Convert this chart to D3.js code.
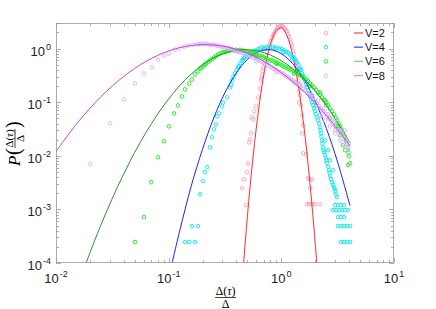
<!DOCTYPE html>
<html>
<head>
<meta charset="utf-8">
<script src="https://cdn.jsdelivr.net/npm/d3@7"></script>
<style>
  body { margin: 0; background: #fff; }
  text { font-family: "Liberation Sans", Arial, sans-serif; }
  .math { font-family: "Liberation Serif", "Times New Roman", serif; }
</style>
</head>
<body>
<svg id="chart" width="436" height="309"></svg>
<script>
// fitted curves as [x, P]
var lineV2 = [[0.457,7.2e-5],[0.501,7.8e-4],[0.562,9.9e-3],[0.631,0.0776],[0.708,0.377],[0.794,1.13],[0.891,2.11],[1.0,2.44],[1.122,1.74],[1.259,0.773],[1.413,0.212],[1.585,0.036],[1.778,3.8e-3],[1.995,2.45e-4],[2.089,7.2e-5]];
var lineV4 = [[0.107,9.8e-5],[0.126,4.15e-4],[0.158,2.65e-3],[0.1995,0.01315],[0.251,0.0506],[0.316,0.151],[0.398,0.350],[0.501,0.630],[0.631,0.880],[0.794,0.954],[1,0.803],[1.259,0.525],[1.585,0.266],[1.995,0.105],[2.512,0.0321],[3.162,7.6e-3],[4.07,1.17e-3]];
var lineV6 = [[0.0182,9.1e-5],[0.0251,5.19e-4],[0.0398,4.54e-3],[0.0631,0.0275],[0.1,0.115],[0.158,0.334],[0.251,0.671],[0.398,0.931],[0.631,0.895],[1,0.594],[1.585,0.273],[2.512,0.0868],[4.07,0.0175]];
var lineV8 = [[0.01,0.012],[0.0158,0.0433],[0.0251,0.127],[0.0398,0.301],[0.0631,0.579],[0.1,0.903],[0.158,1.141],[0.251,1.168],[0.398,0.970],[0.631,0.653],[1,0.356],[1.585,0.158],[2.512,0.0565],[4.07,0.0153]];

// measured points
var dotsV2 = [[0.448,0.00248],[0.467,0.00365],[0.486,0.0012],[0.496,0.00493],[0.506,0.00725],[0.517,0.0178],[0.528,0.0203],[0.538,0.0262],[0.550,0.052],[0.561,0.0478],[0.573,0.0673],[0.596,0.0834],[0.621,0.123],[0.647,0.180],[0.661,0.254],[0.674,0.315],[0.688,0.443],[0.717,0.598],[0.747,0.843],[0.778,1.137],[0.810,1.409],[0.844,1.746],[0.879,2.071],[0.916,2.355],[0.954,2.567],[0.994,2.679],[1.035,2.567],[1.078,2.355],[1.124,2.071],[1.170,1.673],[1.219,1.293],[1.270,0.918],[1.323,0.652],[1.351,0.463],[1.407,0.315],[1.436,0.205],[1.466,0.134],[1.496,0.087],[1.527,0.0567],[1.558,0.0369],[1.527,0.0262],[1.558,0.0111],[1.657,0.0107],[1.726,0.00381],[1.798,0.00365],[1.873,0.00365],[1.798,0.00248],[1.691,0.00125],[1.761,0.00125],[1.835,0.00125],[1.911,0.00125],[1.991,0.00125],[2.205,0.00125],[1.436,0.099],
  [0.665,0.28],[0.68,0.38],[0.70,0.52],[0.73,0.72],[0.76,1.0],[0.795,1.27],[0.827,1.58],[0.862,1.9],[0.897,2.2],[0.935,2.45],[0.974,2.62],[1.015,2.62],[1.056,2.45],[1.10,2.2],[1.147,1.86],[1.195,1.48],[1.245,1.1],[1.296,0.78],[1.336,0.55],[1.38,0.38],[1.42,0.25],[1.45,0.165]];
var dotsV4 = [[0.140,0.000246],[0.152,0.000246],[0.171,0.000246],[0.161,0.000488],[0.182,0.000488],[0.190,0.00192],[0.202,0.00335],[0.210,0.00493],[0.219,0.00611],[0.233,0.0144],[0.243,0.0221],[0.253,0.0311],[0.263,0.0385],[0.269,0.0543],[0.280,0.0618],[0.298,0.0834],[0.304,0.099],[0.330,0.123],[0.351,0.188],[0.365,0.254],[0.388,0.343],[0.413,0.443],[0.430,0.526],[0.457,0.624],[0.476,0.680],[0.506,0.774],[0.550,0.843],[0.596,0.918],[0.647,1.0],[0.717,1.044],[0.794,1.044],[0.879,1.044],[0.974,1.0],[1.057,0.918],[1.147,0.843],[1.219,0.741],[1.296,0.652],[1.379,0.549],[1.466,0.425],[1.527,0.343],[1.590,0.277],[1.657,0.214],[1.726,0.165],[1.798,0.128],[1.873,0.099],[1.951,0.0765],[2.032,0.0592],[2.117,0.0458],[2.205,0.0339],[2.251,0.0262],[2.298,0.0194],[2.345,0.0144],[2.394,0.0116],[2.494,0.00899],[2.545,0.00725],[2.650,0.00537],[2.705,0.00416],[2.818,0.00321],[2.936,0.0026],[2.997,0.00218],[3.122,0.00169],
  [1.873,0.134],[2.032,0.087],[2.205,0.0567],[2.443,0.0194],[2.597,0.0127],[2.705,0.00825],[2.876,0.00537],
  [0.358,0.21],[0.376,0.30],[0.40,0.40],[0.42,0.47],[0.445,0.59],[0.466,0.66],[0.49,0.72],[0.528,0.80],[0.573,0.90],[0.62,0.97],[0.68,1.06],[0.755,1.08],[0.835,1.07],[0.925,1.03],[1.015,0.97],[1.10,0.88],[1.18,0.80],[1.26,0.70],[1.34,0.60],[1.42,0.49],[1.50,0.40],[1.56,0.31],[1.62,0.25],[1.69,0.19],[1.76,0.147],[1.835,0.113],[1.91,0.088],[1.99,0.068],[2.07,0.052],[2.16,0.040],[2.23,0.030],[2.27,0.023],[2.32,0.017],[2.37,0.013],[2.44,0.0105],[2.52,0.0082],[2.60,0.0063],[2.68,0.0048],[2.76,0.0037],[2.88,0.0029],[2.97,0.0024],[3.06,0.0019],
  [0.52,0.74],[0.70,0.98],[0.88,0.98],[1.05,0.86],[1.25,0.63],[1.45,0.40],
  [2.997,0.0012],[3.186,0.0012],[3.388,0.0012],[3.602,0.0012],
  [2.876,0.000968],[3.059,0.000968],[3.252,0.000968],[3.458,0.000968],[3.676,0.000968],[3.909,0.000968],
  [3.186,0.000718],[3.388,0.000718],[3.602,0.000718],
  [3.186,0.000488],[3.388,0.000488],[3.602,0.000488],[3.830,0.000488],[4.072,0.000488],
  [3.388,0.000246],[3.602,0.000246],[3.830,0.000246],[4.072,0.000246]];
var dotsV6 = [[0.0503,0.000246],[0.0604,0.000718],[0.0697,0.00321],[0.0805,0.00938],[0.0910,0.0186],[0.1008,0.0354],[0.1116,0.0618],[0.1211,0.087],[0.1314,0.128],[0.1397,0.173],[0.1517,0.223],[0.1612,0.265],[0.1714,0.328],[0.1823,0.373],[0.1898,0.425],[0.2018,0.463],[0.2146,0.526],[0.2329,0.598],[0.2527,0.680],[0.2742,0.774],[0.2976,0.843],[0.3230,0.880],[0.3505,0.918],[0.3803,0.918],[0.4126,0.918],[0.4479,0.918],[0.4861,0.880],[0.5275,0.843],[0.5725,0.807],[0.6211,0.741],[0.6741,0.710],[0.7316,0.652],[0.794,0.598],[0.8616,0.573],[0.9347,0.526],[1.0145,0.483],[1.1007,0.443],[1.1946,0.407],[1.2964,0.373],[1.4067,0.343],[1.527,0.301],[1.657,0.265],[1.798,0.223],[1.951,0.188],[2.117,0.152],[2.298,0.123],[2.494,0.099],[2.705,0.0765],[2.936,0.0592],[3.122,0.0458],[3.319,0.0354],[3.529,0.0274],[3.752,0.0194],[3.909,0.0138],[3.990,0.00979],[4.072,0.00725],
  [2.705,0.0498],[2.997,0.0369],[3.319,0.0241],[3.676,0.0127],[3.909,0.00666],[3.529,0.0157],[3.186,0.0325],[2.443,0.108],[2.205,0.152],
  [0.195,0.44],[0.208,0.50],[0.224,0.56],[0.243,0.64],[0.263,0.73],[0.286,0.81],[0.31,0.86],[0.336,0.90],[0.365,0.95],[0.396,0.95],[0.43,0.95],[0.466,0.91],[0.506,0.87],[0.55,0.83],[0.597,0.77],[0.647,0.74],[0.70,0.68],[0.76,0.63],[0.83,0.60],[0.90,0.55],[0.975,0.51],[1.057,0.46],[1.147,0.425],[1.245,0.39],[1.35,0.36],[1.465,0.32],[1.59,0.28],[1.725,0.245],[1.87,0.205],[2.03,0.17],[2.20,0.137],[2.39,0.110],[2.60,0.088],[2.82,0.068],[3.03,0.052],[3.22,0.040],[3.42,0.031],[3.64,0.023],[3.83,0.0165],[3.95,0.0115],
  [0.6,0.70],[0.9,0.52],[1.3,0.34],[1.8,0.20],[2.5,0.088],[3.2,0.036]];
var dotsV8 = [[0.0201,0.00695],[0.0302,0.0402],[0.0402,0.1125],[0.0503,0.223],[0.0604,0.343],[0.0712,0.443],[0.0805,0.624],[0.0910,0.741],[0.1008,0.807],[0.1139,0.958],[0.1236,1.0],[0.1369,1.089],[0.1486,1.137],[0.1645,1.187],[0.1786,1.187],[0.1937,1.239],[0.2102,1.239],[0.2282,1.187],[0.2476,1.187],[0.2687,1.137],[0.2916,1.089],[0.3164,1.044],[0.3434,1.0],[0.3726,0.958],[0.4044,0.880],[0.4388,0.843],[0.4762,0.774],[0.5168,0.741],[0.5609,0.680],[0.6087,0.624],[0.6605,0.573],[0.7168,0.526],[0.7779,0.483],[0.8441,0.425],[0.9162,0.390],[0.994,0.358],[1.078,0.315],[1.170,0.289],[1.270,0.254],[1.379,0.223],[1.496,0.196],[1.623,0.165],[1.761,0.139],[1.911,0.117],[2.074,0.0948],[2.251,0.0765],[2.443,0.0618],[2.650,0.0498],[2.876,0.0402],[3.122,0.0325],[3.388,0.0262],[3.676,0.0212],[3.990,0.0171],
  [2.205,0.0567],[2.443,0.0458],[2.705,0.0354],[2.997,0.0262],[3.319,0.0194],[3.676,0.0150],[3.909,0.0127],[2.117,0.108],[2.443,0.0765],[2.997,0.0458],[3.676,0.0298],[1.798,0.152],[1.466,0.214],
  [0.185,1.21],[0.202,1.21],[0.219,1.21],[0.238,1.16],[0.258,1.16],[0.28,1.11],[0.304,1.06],[0.33,1.02],[0.358,0.98],[0.388,0.92],[0.42,0.86],[0.457,0.81],[0.497,0.76],[0.54,0.71],[0.585,0.65],[0.634,0.60],[0.69,0.55],[0.747,0.50],[0.81,0.45],[0.88,0.41],[0.955,0.37],[1.035,0.335],[1.125,0.30],[1.22,0.27],[1.32,0.24],[1.44,0.21],[1.56,0.18],[1.69,0.15],[1.84,0.128],[1.99,0.105],[2.16,0.085],[2.35,0.069],[2.55,0.055],[2.76,0.045],[3.0,0.036],[3.25,0.029],[3.53,0.0235],[3.83,0.019],
  [0.6,0.58],[0.9,0.37],[1.3,0.23],[1.9,0.125],[2.6,0.06],[3.3,0.03],[3.0,0.030],[3.5,0.018],[3.9,0.014]];

var seriesNames = ["V=2", "V=4", "V=6", "V=8"];
var xTickExp = [-2, -1, 0, 1];
var yTickExp = [-4, -3, -2, -1, 0];

var series = [
  { name: seriesNames[0], line: lineV2, dots: dotsV2, lc: "#ff2b2b", dc: "#ff9fc0", leg: "#ff5a5a" },
  { name: seriesNames[1], line: lineV4, dots: dotsV4, lc: "#1f1fff", dc: "#00e8f0", leg: "#5a5aff" },
  { name: seriesNames[2], line: lineV6, dots: dotsV6, lc: "#2f8f2f", dc: "#11ee11", leg: "#80d080" },
  { name: seriesNames[3], line: lineV8, dots: dotsV8, lc: "#cc3fd6", dc: "#d8b0ff", leg: "#e090ee" }
];

var svg = d3.select("#chart");
var L = 56, R = 394, T = 23, B = 263;
var x = d3.scaleLog().domain([0.01, 10]).range([L, R]);
var y = d3.scaleLog().domain([1e-4, 3]).range([B, T]);

svg.append("clipPath").attr("id", "clip")
  .append("rect").attr("x", L).attr("y", T).attr("width", R - L).attr("height", B - T);

// ticks on all four sides, pointing in
var axisColor = "#9a9a9a";
var ticks = svg.append("g").attr("stroke", axisColor).attr("stroke-width", 0.8);
var xt = [], yt = [];
for (var e = -2; e <= 0; e++) for (var m = 1; m <= 9; m++) xt.push({ v: m * Math.pow(10, e), major: m === 1 });
xt.push({ v: 10, major: true });
for (var e2 = -4; e2 <= 0; e2++) for (var m2 = 1; m2 <= 9; m2++) {
  var v = m2 * Math.pow(10, e2);
  if (v <= 3) yt.push({ v: v, major: m2 === 1 });
}
xt.forEach(function (d) {
  var px = Math.round(x(d.v)) + 0.5, len = d.major ? 5 : 3;
  ticks.append("line").attr("x1", px).attr("x2", px).attr("y1", B).attr("y2", B - len);
  ticks.append("line").attr("x1", px).attr("x2", px).attr("y1", T).attr("y2", T + len);
});
yt.forEach(function (d) {
  var py = Math.round(y(d.v)) + 0.5, len = d.major ? 5 : 3;
  ticks.append("line").attr("x1", L).attr("x2", L + len).attr("y1", py).attr("y2", py);
  ticks.append("line").attr("x1", R).attr("x2", R - len).attr("y1", py).attr("y2", py);
});

// series: markers, then fitted line
var plot = svg.append("g").attr("clip-path", "url(#clip)");
var lineGen = d3.line()
  .x(function (d) { return x(d[0]); })
  .y(function (d) { return y(d[1]); })
  .curve(d3.curveCatmullRom.alpha(0.5));

series.forEach(function (s) {
  plot.append("g").selectAll("circle")
    .data(s.dots)
    .enter()
    .append("circle")
    .attr("cx", function (d) { return x(d[0]); })
    .attr("cy", function (d) { return y(d[1]); })
    .attr("r", 1.8)
    .attr("fill", "none")
    .attr("stroke", s.dc)
    .attr("stroke-width", 0.9);
  plot.append("path")
    .datum(s.line)
    .attr("d", lineGen)
    .attr("fill", "none")
    .attr("stroke", s.lc)
    .attr("stroke-width", 1);
});

// box
svg.append("rect").attr("x", L + 0.5).attr("y", T + 0.5).attr("width", R - L - 1).attr("height", B - T - 1)
  .attr("fill", "none").attr("stroke", axisColor).attr("stroke-width", 0.8);

// tick labels
xTickExp.forEach(function (k) {
  var t = svg.append("text").attr("x", x(Math.pow(10, k))).attr("y", 283)
    .attr("text-anchor", "middle").attr("font-size", 13).attr("fill", "#222");
  t.append("tspan").text("10");
  t.append("tspan").attr("dy", -6).attr("dx", 1).attr("font-size", 9).text(String(k));
});
yTickExp.forEach(function (k) {
  var t = svg.append("text").attr("x", 51).attr("y", y(Math.pow(10, k)) + 7)
    .attr("text-anchor", "end").attr("font-size", 13).attr("fill", "#222");
  t.append("tspan").text("10");
  t.append("tspan").attr("dy", -6).attr("dx", 1).attr("font-size", 9).text(String(k));
});

// x label: fraction
var xl = svg.append("g").attr("transform", "translate(225.5,0)");
var num = xl.append("text").attr("class", "math").attr("x", 0).attr("y", 295).attr("text-anchor", "middle").attr("font-size", 12);
num.append("tspan").text("\u0394(");
num.append("tspan").attr("font-style", "italic").text("\u03c4");
num.append("tspan").text(")");
xl.append("line").attr("x1", -10.5).attr("x2", 10.5).attr("y1", 297.5).attr("y2", 297.5).attr("stroke", "#111").attr("stroke-width", 0.8);
xl.append("text").attr("class", "math").attr("x", 0).attr("y", 307.5).attr("text-anchor", "middle").attr("font-size", 12).text("\u0394");

// y label: P( fraction )
var yl = svg.append("g").attr("transform", "translate(15,142) rotate(-90)");
yl.append("text").attr("class", "math").attr("x", -24).attr("y", 5).attr("font-size", 17).attr("font-style", "italic").text("P");
yl.append("text").attr("class", "math").attr("x", -13).attr("y", 5).attr("font-size", 20).text("(");
var yn = yl.append("text").attr("class", "math").attr("x", 3.5).attr("y", -2.5).attr("text-anchor", "middle").attr("font-size", 11);
yn.append("tspan").text("\u0394(");
yn.append("tspan").attr("font-style", "italic").text("\u03c4");
yn.append("tspan").text(")");
yl.append("line").attr("x1", -6).attr("x2", 13).attr("y1", 0).attr("y2", 0).attr("stroke", "#111").attr("stroke-width", 0.8);
yl.append("text").attr("class", "math").attr("x", 3.5).attr("y", 8.5).attr("text-anchor", "middle").attr("font-size", 11).text("\u0394");
yl.append("text").attr("class", "math").attr("x", 14).attr("y", 5).attr("font-size", 20).text(")");

// legend
var leg = svg.append("g");
series.forEach(function (s, i) {
  var ly = 33 + i * 14.2;
  leg.append("circle").attr("cx", 326).attr("cy", ly).attr("r", 1.8)
    .attr("fill", "none").attr("stroke", s.dc).attr("stroke-width", 0.9);
  leg.append("line").attr("x1", 354).attr("x2", 363).attr("y1", ly).attr("y2", ly)
    .attr("stroke", s.leg).attr("stroke-width", 1.4);
  leg.append("text").attr("x", 365).attr("y", ly + 4).attr("font-size", 11).attr("fill", "#111").text(s.name);
});
</script>
</body>
</html>
